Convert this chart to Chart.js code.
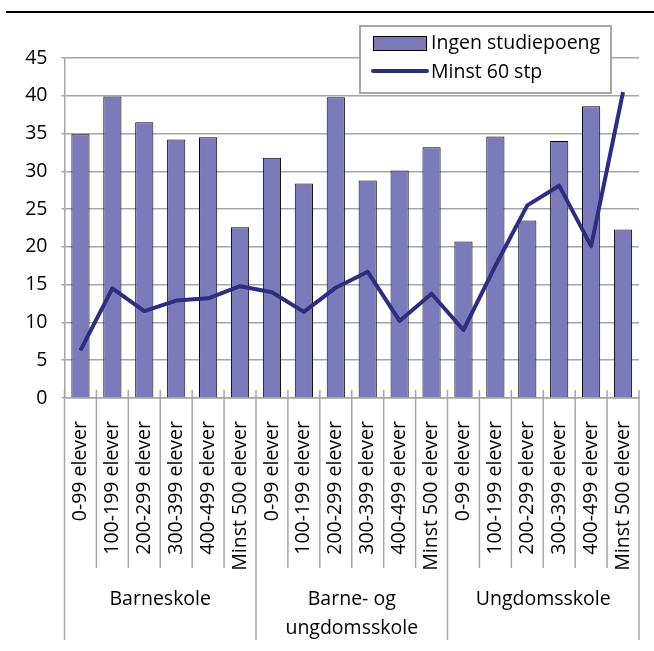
<!DOCTYPE html>
<html>
<head>
<meta charset="utf-8">
<script src="https://cdn.jsdelivr.net/npm/chart.js@4.4.0/dist/chart.umd.min.js"></script>
<style>
  html, body { margin: 0; padding: 0; background: #fff; }
  #wrap { width: 654px; height: 651px; position: relative; }
</style>
</head>
<body>
<div id="wrap"><canvas id="chart"></canvas></div>
<script>
// Data
const sizeLabels = ['0-99 elever', '100-199 elever', '200-299 elever', '300-399 elever', '400-499 elever', 'Minst 500 elever'];
const groups = [['Barneskole'], ['Barne- og', 'ungdomsskole'], ['Ungdomsskole']];
const categories = [...sizeLabels, ...sizeLabels, ...sizeLabels];

const ingenStudiepoeng = [34.9, 39.9, 36.5, 34.2, 34.5, 22.6,
                          31.8, 28.4, 39.8, 28.8, 30.1, 33.2,
                          20.7, 34.6, 23.5, 34.0, 38.6, 22.3];
const minst60stp = [6.3, 14.5, 11.5, 12.9, 13.2, 14.8,
                    14.0, 11.4, 14.6, 16.7, 10.2, 13.8,
                    9.0, 17.5, 25.5, 28.1, 20.1, 40.5];

const yTicks = [0, 5, 10, 15, 20, 25, 30, 35, 40, 45];

const FONT = '"Open Sans", "DejaVu Sans", sans-serif';
const FSIZE = 19.5;
const GRID = '#a6a6a6';
const BAR = '#7b7bbb';
const LINE = '#2c2e80';

// Draws the top rule, the category/group separators below the axis and the legend
const decorations = {
    id: 'decorations',
    afterDraw(chart) {
        const ctx = chart.ctx;
        const x = chart.scales.x;
        const area = chart.chartArea;
        const per = sizeLabels.length;
        const bound = i => {
            if (i === 0) return area.left;
            if (i === categories.length) return area.right;
            return (x.getPixelForValue(i - 1) + x.getPixelForValue(i)) / 2;
        };
        ctx.save();

        // top rule
        ctx.strokeStyle = '#000';
        ctx.lineWidth = 2;
        ctx.beginPath();
        ctx.moveTo(6, 12);
        ctx.lineTo(654, 12);
        ctx.stroke();

        // separators
        ctx.strokeStyle = GRID;
        ctx.lineWidth = 1.5;
        for (let i = 0; i <= categories.length; i++) {
            const px = bound(i);
            ctx.beginPath();
            ctx.moveTo(px, area.bottom - 8);
            ctx.lineTo(px, i % per === 0 ? 640 : 568);
            ctx.stroke();
        }

        // group labels
        ctx.fillStyle = '#000';
        ctx.font = FSIZE + 'px ' + FONT;
        ctx.textAlign = 'center';
        ctx.textBaseline = 'middle';
        groups.forEach((lines, g) => {
            const mid = (bound(g * per) + bound((g + 1) * per)) / 2;
            lines.forEach((t, k) => ctx.fillText(t, mid, 599 + k * 29));
        });

        // legend
        const bars = chart.data.datasets.find(d => d.type !== 'line');
        const line = chart.data.datasets.find(d => d.type === 'line');
        const lx = 360, ly = 26, lw = 251, lh = 67;
        ctx.fillStyle = '#fff';
        ctx.fillRect(lx, ly, lw, lh);
        ctx.strokeStyle = GRID;
        ctx.lineWidth = 2;
        ctx.strokeRect(lx, ly, lw, lh);

        ctx.fillStyle = bars.backgroundColor;
        ctx.fillRect(373, 36, 53, 14);
        ctx.strokeStyle = '#000';
        ctx.lineWidth = 1;
        ctx.strokeRect(373.5, 36.5, 53, 14);

        ctx.strokeStyle = line.borderColor;
        ctx.lineWidth = 4;
        ctx.lineCap = 'round';
        ctx.beginPath();
        ctx.moveTo(373, 71);
        ctx.lineTo(427, 71);
        ctx.stroke();

        ctx.fillStyle = '#000';
        ctx.textAlign = 'left';
        ctx.fillText(bars.label, 431, 43);
        ctx.fillText(line.label, 431, 72);
        ctx.restore();
    }
};

new Chart(document.getElementById('chart'), {
    type: 'bar',
    data: {
        labels: categories,
        datasets: [
            {
                type: 'line',
                label: 'Minst 60 stp',
                data: minst60stp,
                borderColor: LINE,
                borderWidth: 4,
                pointRadius: 0,
                tension: 0,
                borderJoinStyle: 'round',
                order: 1
            },
            {
                type: 'bar',
                label: 'Ingen studiepoeng',
                data: ingenStudiepoeng,
                backgroundColor: BAR,
                borderColor: '#000',
                borderWidth: 1,
                categoryPercentage: 1,
                barPercentage: 0.57,
                order: 2
            }
        ]
    },
    options: {
        responsive: true,
        maintainAspectRatio: false,
        animation: false,
        layout: { padding: { top: 58, right: 15, bottom: 0, left: 0 } },
        plugins: {
            legend: { display: false },
            tooltip: { enabled: false }
        },
        scales: {
            x: {
                offset: true,
                grid: { display: false, drawTicks: false },
                border: { display: true, color: GRID, width: 1.5 },
                ticks: {
                    minRotation: 90,
                    maxRotation: 90,
                    autoSkip: false,
                    padding: 23,
                    color: '#000',
                    font: { family: FONT, size: FSIZE }
                },
                afterFit(scale) {
                    scale.height = 253;
                    scale.paddingLeft = 0;
                    scale.paddingRight = 0;
                }
            },
            y: {
                min: 0,
                max: 45,
                afterBuildTicks(scale) { scale.ticks = yTicks.map(v => ({ value: v })); },
                grid: { color: GRID, lineWidth: 1.5, drawTicks: true, tickLength: 3 },
                border: { display: true, color: GRID, width: 1.5 },
                ticks: {
                    padding: 14,
                    color: '#000',
                    font: { family: FONT, size: FSIZE }
                },
                afterFit(scale) { scale.width = 64.5; }
            }
        }
    },
    plugins: [decorations]
});
</script>
</body>
</html>
